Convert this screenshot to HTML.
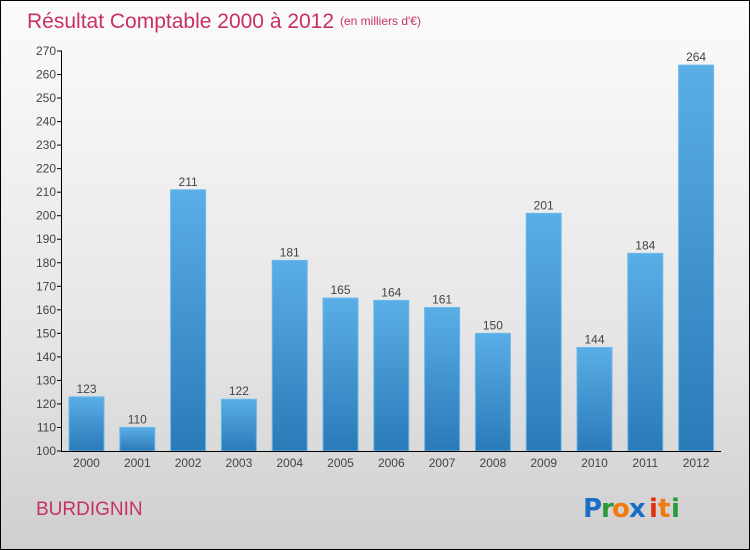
<!DOCTYPE html>
<html><head><meta charset="utf-8"><style>
body{margin:0}
#c{position:relative;width:748px;height:548px;border:1px solid #000;background:linear-gradient(#fbfbfb,#e6e6e6 60%,#cfcfcf);font-family:"Liberation Sans",sans-serif;overflow:hidden}
</style></head><body>
<div id="c">
<svg id="s" width="748" height="548" style="position:absolute;left:0;top:0">
<defs><linearGradient id="g" x1="0" y1="0" x2="0" y2="1"><stop offset="0" stop-color="#5aaee6"/><stop offset="1" stop-color="#2a7ab8"/></linearGradient></defs>
<text x="26" y="27" font-size="21" fill="#c8315f">Résultat Comptable 2000 à 2012</text>
<text x="339" y="24" font-size="12" fill="#c8315f">(en milliers d'€)</text>
<text x="35" y="514" font-size="19" fill="#c8315f">BURDIGNIN</text>
<g font-size="26" font-weight="bold" font-family="'DejaVu Sans',sans-serif">
<text x="582" y="516" fill="#1a6fc4">P</text><text x="600" y="516" fill="#2a9a3a">r</text><text x="611" y="516" fill="#f07a10">o</text><text x="628" y="516" fill="#1a6fc4">x</text><text x="648" y="516" fill="#e03010">i</text><text x="657" y="516" fill="#f07a10">t</text><text x="670" y="516" fill="#2a9a3a">i</text>
</g>
</svg>
</div>
<script>
const years=["2000","2001","2002","2003","2004","2005","2006","2007","2008","2009","2010","2011","2012"];
const values=[123,110,211,122,181,165,164,161,150,201,144,184,264];
const ticks=[100,110,120,130,140,150,160,170,180,190,200,210,220,230,240,250,260,270];
const s=document.getElementById('s'),NS="http://www.w3.org/2000/svg";
const y=v=>450-(v-100)*400/170;
const x=i=>85.5+i*50.8;
function mk(t,a){const e=document.createElementNS(NS,t);for(const k in a)e.setAttribute(k,a[k]);s.appendChild(e);return e;}
ticks.forEach(t=>{
 const tk=mk('line',{x1:56,x2:61,y1:y(t),y2:y(t),stroke:'#000'});
 
 
 const tx=mk('text',{x:55,y:y(t)+4,'font-size':12,fill:'#444','text-anchor':'end'});tx.textContent=t;
 
 
});
values.forEach((v,i)=>{
 const r=mk('rect',{x:x(i)-17.5,y:y(v),width:35,height:450-y(v),fill:'url(#g)',stroke:'#6ab8ee','stroke-width':1});
 
 
 const vl=mk('text',{x:x(i),y:y(v)-4,'font-size':12,fill:'#444','text-anchor':'middle'});vl.textContent=v;
 
 
 const xl=mk('text',{x:x(i),y:466,'font-size':12,fill:'#444','text-anchor':'middle'});xl.textContent=years[i];
 
 
});
const ya=mk('line',{x1:60.5,x2:60.5,y1:y(270),y2:450,stroke:'#000'});


const xa=mk('line',{x1:60,x2:720,y1:450.5,y2:450.5,stroke:'#000'});


</script>
</body></html>
